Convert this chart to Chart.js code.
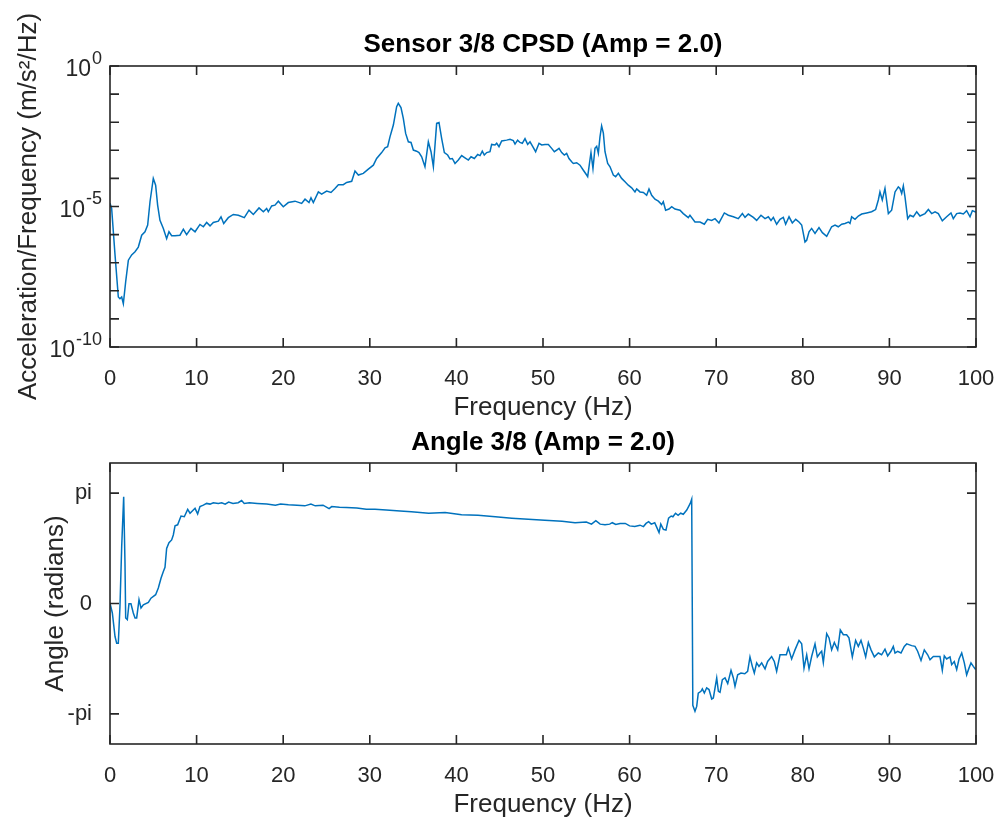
<!DOCTYPE html>
<html>
<head>
<meta charset="utf-8">
<script src="https://cdn.jsdelivr.net/npm/chart.js@4.4.1/dist/chart.umd.min.js"></script>
<style>
  html, body { margin: 0; padding: 0; background: #ffffff; }
  #wrap { position: relative; width: 1000px; height: 823px; overflow: hidden; }
  canvas { position: absolute; left: 0; }
  #psd { top: 0; }
  #angle { top: 420px; }
</style>
</head>
<body>
<div id="wrap">
  <canvas id="angle" width="1000" height="403"></canvas>
  <canvas id="psd" width="1000" height="430"></canvas>
</div>
<script>
// Cross power spectral density magnitude, [frequency Hz, m/s^2/Hz]
const psdSeries = [
  [0,1.3e-5],[0.19,8.5e-6],[0.58,1.9e-7],[0.96,6.0e-9],[1.15,5.2e-9],[1.35,6.0e-9],[1.54,3.5e-9],[1.81,2.1e-8],
  [2.12,1.23e-7],[2.50,1.9e-7],[2.89,2.45e-7],[3.27,3.6e-7],[3.66,9.5e-7],[4.04,1.26e-6],[4.35,2.2e-6],[4.62,1.48e-5],
  [5.00,1.0e-4],[5.27,5.75e-5],[5.50,1.12e-5],[5.77,3.2e-6],[6.16,1.66e-6],[6.54,7.2e-7],[6.81,1.26e-6],[7.12,9.1e-7],
  [7.51,9.1e-7],[8.08,9.5e-7],[8.47,1.55e-6],[8.85,1.0e-6],[9.35,1.66e-6],[9.82,1.26e-6],[10.39,2.3e-6],[10.78,1.9e-6],
  [11.16,2.7e-6],[11.55,2.04e-6],[11.93,2.7e-6],[12.51,3.0e-6],[12.82,4.3e-6],[13.13,2.5e-6],[13.66,4.0e-6],[14.24,5.2e-6],
  [14.82,4.9e-6],[15.51,4.0e-6],[16.05,7.4e-6],[16.55,5.2e-6],[17.21,8.9e-6],[17.71,6.5e-6],[18.09,8.5e-6],[18.28,6.5e-6],
  [18.67,1.05e-5],[19.05,1.12e-5],[19.44,1.55e-5],[20.01,9.8e-6],[20.59,1.38e-5],[21.36,1.55e-5],[22.13,1.29e-5],[22.52,1.82e-5],
  [22.98,1.38e-5],[23.21,2.04e-5],[23.48,1.38e-5],[24.06,3.3e-5],[24.44,2.75e-5],[25.02,3.55e-5],[25.52,3.16e-5],[25.98,4.4e-5],
  [26.37,6.0e-5],[26.94,6.0e-5],[27.33,7.2e-5],[27.91,7.9e-5],[28.29,1.82e-4],[28.68,1.32e-4],[29.25,1.51e-4],[29.83,2.14e-4],
  [30.41,2.95e-4],[30.79,5.1e-4],[31.37,8.3e-4],[31.76,1.23e-3],[32.06,1.35e-3],[32.33,3.0e-3],[32.72,7.9e-3],[33.10,3.55e-2],
  [33.29,4.7e-2],[33.60,3.3e-2],[33.87,1.38e-2],[34.14,4.0e-3],[34.45,2.0e-3],[34.76,1.9e-3],[35.03,1.02e-3],[35.41,9.3e-4],
  [35.68,8.3e-4],[35.99,5.9e-4],[36.37,2.6e-4],[36.76,2.0e-3],[37.07,8.9e-4],[37.34,2.6e-4],[37.72,9.1e-3],[37.99,9.8e-3],
  [38.30,2.6e-3],[38.61,8.3e-4],[38.99,6.8e-4],[39.26,4.9e-4],[39.53,5.1e-4],[39.84,3.4e-4],[40.22,4.5e-4],[40.61,6.5e-4],
  [40.99,5.4e-4],[41.38,4.5e-4],[41.69,5.9e-4],[42.07,5.1e-4],[42.46,7.1e-4],[42.73,6.5e-4],[42.99,9.3e-4],[43.22,6.8e-4],
  [43.50,8.3e-4],[43.88,8.9e-4],[44.07,1.62e-3],[44.46,1.55e-3],[44.65,1.78e-3],[44.92,1.35e-3],[45.23,2.14e-3],[45.80,2.3e-3],
  [46.19,2.45e-3],[46.57,2.2e-3],[46.77,1.66e-3],[47.07,2.3e-3],[47.34,1.9e-3],[47.61,1.78e-3],[47.92,2.6e-3],[48.23,1.62e-3],
  [48.50,2.0e-3],[48.77,1.45e-3],[49.15,8.9e-4],[49.54,1.78e-3],[49.85,1.55e-3],[50.23,1.62e-3],[50.62,1.62e-3],[51.00,1.17e-3],
  [51.31,8.9e-4],[51.58,1.02e-3],[51.85,1.17e-3],[52.16,8.3e-4],[52.46,6.8e-4],[52.73,7.8e-4],[53.00,5.1e-4],[53.31,3.9e-4],
  [53.50,3.4e-4],[53.89,3.6e-4],[54.27,2.95e-4],[54.66,1.95e-4],[55.04,1.32e-4],[55.16,1.15e-4],[55.39,3.9e-4],[55.54,8.3e-4],
  [55.77,2.24e-4],[56.00,1.17e-3],[56.20,1.38e-3],[56.39,7.8e-4],[56.58,3.0e-3],[56.77,7.4e-3],[56.97,4.1e-3],[57.16,8.9e-4],
  [57.47,3.4e-4],[57.74,2.6e-4],[58.12,1.32e-4],[58.39,1.15e-4],[58.70,1.51e-4],[59.08,1.0e-4],[59.47,7.6e-5],[59.85,5.75e-5],
  [60.24,4.6e-5],[60.62,3.3e-5],[60.82,4.2e-5],[61.20,3.3e-5],[61.59,3.16e-5],[61.97,2.5e-5],[62.24,4.2e-5],[62.55,2.5e-5],
  [62.93,1.82e-5],[63.32,1.55e-5],[63.70,1.17e-5],[63.89,1.48e-5],[64.16,7.4e-6],[64.55,8.1e-6],[64.86,9.8e-6],[65.24,8.1e-6],
  [65.82,7.4e-6],[66.20,5.6e-6],[66.78,4.0e-6],[66.97,4.9e-6],[67.55,2.8e-6],[68.13,2.8e-6],[68.63,2.34e-6],[69.01,3.5e-6],
  [69.48,3.2e-6],[69.86,3.7e-6],[70.32,2.6e-6],[70.94,5.9e-6],[71.40,4.9e-6],[71.98,4.3e-6],[72.55,3.7e-6],[73.02,5.6e-6],
  [73.33,4.1e-6],[73.71,5.4e-6],[74.29,4.1e-6],[74.67,3.2e-6],[75.17,4.9e-6],[75.64,3.7e-6],[76.02,4.3e-6],[76.33,3.2e-6],
  [76.60,4.1e-6],[76.98,2.34e-6],[77.37,3.5e-6],[77.75,4.1e-6],[78.02,2.34e-6],[78.41,4.3e-6],[78.79,2.6e-6],[79.18,3.5e-6],
  [79.56,2.8e-6],[79.87,2.2e-6],[80.06,1.1e-6],[80.25,5.5e-7],[80.45,6.3e-7],[80.72,1.26e-6],[81.02,1.66e-6],[81.41,1.1e-6],
  [81.87,1.78e-6],[82.26,1.17e-6],[82.76,8.7e-7],[83.33,1.9e-6],[83.72,2.2e-6],[84.10,1.9e-6],[84.49,2.34e-6],[84.87,2.5e-6],
  [85.26,2.8e-6],[85.45,2.5e-6],[85.64,4.3e-6],[86.03,3.5e-6],[86.41,4.6e-6],[86.80,5.4e-6],[87.37,5.9e-6],[87.95,6.5e-6],
  [88.41,7.8e-6],[88.72,1.7e-5],[88.91,3.3e-5],[89.18,1.7e-5],[89.49,4.4e-5],[89.88,5.6e-6],[90.26,7.4e-6],[90.65,3.3e-5],
  [91.03,5.0e-5],[91.22,4.4e-5],[91.42,2.9e-5],[91.61,5.4e-5],[91.80,2.2e-5],[92.11,3.7e-6],[92.38,4.9e-6],[92.76,4.3e-6],
  [93.15,6.5e-6],[93.53,4.6e-6],[94.11,5.6e-6],[94.50,7.8e-6],[94.88,5.6e-6],[95.27,6.5e-6],[95.65,5.6e-6],[96.11,3.1e-6],
  [96.61,4.3e-6],[97.11,5.9e-6],[97.38,3.7e-6],[97.77,5.6e-6],[98.15,5.9e-6],[98.54,5.4e-6],[98.92,7.1e-6],[99.31,4.3e-6],
  [99.58,7.1e-6],[99.88,6.5e-6],[100,6.3e-6]
];

// Phase of the cross spectrum, [frequency Hz, radians]
const angleSeries = [
  [0,0.01],[0.27,-0.27],[0.58,-0.94],[0.77,-1.13],[0.96,-1.13],[1.15,-0.09],[1.35,1.62],[1.58,3.04],[1.73,1.15],
  [1.81,-0.41],[2.0,-0.46],[2.19,-0.01],[2.42,-0.01],[2.69,-0.27],[2.89,-0.41],[3.08,-0.41],[3.35,0.11],[3.58,-0.13],
  [3.85,-0.04],[4.43,0.03],[4.73,0.15],[5.27,0.25],[5.58,0.44],[5.89,0.72],[6.16,0.91],[6.35,1.03],[6.54,1.57],
  [6.81,1.73],[7.12,1.81],[7.31,1.95],[7.51,2.21],[7.81,2.24],[8.2,2.49],[8.58,2.47],[8.97,2.68],[9.24,2.57],
  [9.82,2.71],[10.12,2.55],[10.39,2.76],[10.78,2.80],[11.16,2.85],[11.55,2.83],[11.93,2.87],[12.51,2.85],[12.9,2.87],
  [13.3,2.83],[13.7,2.89],[14.2,2.85],[14.8,2.87],[15.2,2.93],[15.5,2.85],[16.1,2.87],[17.0,2.85],[18.1,2.83],
  [19.1,2.80],[19.7,2.83],[20.6,2.81],[21.6,2.80],[22.5,2.78],[23.2,2.83],[23.7,2.78],[24.6,2.80],[25.3,2.70],
  [25.6,2.76],[26.5,2.74],[27.3,2.73],[28.5,2.72],[29.6,2.68],[30.6,2.68],[31.9,2.66],[33.5,2.63],[34.8,2.61],
  [36.8,2.57],[38.7,2.59],[40.6,2.53],[42.5,2.51],[44.5,2.47],[46.4,2.43],[48.3,2.40],[50.2,2.37],[52.2,2.34],
  [53.7,2.30],[55.0,2.32],[55.6,2.26],[56.1,2.36],[56.6,2.26],[57.16,2.24],[57.7,2.26],[58.0,2.30],[58.4,2.25],
  [58.9,2.28],[59.5,2.28],[60.0,2.21],[60.6,2.19],[61.2,2.23],[61.6,2.19],[61.9,2.28],[62.2,2.33],[62.5,2.26],
  [62.9,2.30],[63.1,2.19],[63.4,2.02],[63.6,2.26],[63.9,2.11],[64.2,2.09],[64.5,2.43],[64.8,2.49],[65.0,2.47],
  [65.3,2.57],[65.6,2.51],[65.9,2.57],[66.2,2.54],[66.6,2.66],[67.0,2.85],[67.17,2.97],[67.3,-2.90],[67.55,-3.07],
  [67.75,-2.93],[67.93,-2.55],[68.24,-2.50],[68.40,-2.43],[68.63,-2.55],[68.90,-2.40],[69.17,-2.45],[69.48,-2.72],
  [69.67,-2.69],[70.06,-2.12],[70.25,-2.50],[70.44,-2.53],[70.71,-2.17],[71.02,-2.12],[71.33,-2.28],[71.71,-1.90],
  [71.98,-2.12],[72.17,-2.36],[72.48,-2.03],[72.86,-1.98],[73.3,-2.0],[73.63,-1.93],[73.90,-1.52],[74.17,-1.79],
  [74.40,-1.98],[74.67,-1.69],[74.94,-1.79],[75.25,-1.69],[75.64,-1.86],[75.94,-1.65],[76.40,-1.51],[76.71,-1.65],
  [76.98,-1.93],[77.37,-1.46],[77.75,-1.46],[78.1,-1.46],[78.33,-1.27],[78.71,-1.58],[79.1,-1.32],[79.56,-1.05],
  [79.87,-1.15],[80.14,-1.84],[80.45,-1.46],[80.72,-1.86],[81.02,-1.51],[81.41,-1.15],[81.68,-1.52],[81.99,-1.41],
  [82.18,-1.36],[82.37,-1.68],[82.76,-0.86],[83.03,-0.98],[83.33,-1.32],[83.64,-1.11],[84.03,-1.32],[84.33,-0.75],
  [84.68,-0.89],[85.06,-0.89],[85.33,-0.98],[85.72,-1.52],[86.1,-1.05],[86.41,-1.22],[86.72,-1.05],[86.99,-1.27],
  [87.26,-1.52],[87.57,-1.11],[87.88,-1.32],[88.26,-1.52],[88.72,-1.41],[89.1,-1.46],[89.49,-1.30],[89.8,-1.49],
  [90.18,-1.36],[90.45,-1.22],[90.65,-1.41],[90.95,-1.36],[91.34,-1.41],[91.72,-1.22],[92.0,-1.15],[92.57,-1.20],
  [92.96,-1.22],[93.26,-1.36],[93.65,-1.62],[94.03,-1.32],[94.42,-1.46],[94.69,-1.60],[95.07,-1.51],[95.45,-1.51],
  [95.84,-1.51],[96.11,-1.90],[96.34,-1.49],[96.61,-1.58],[97.0,-1.52],[97.19,-1.74],[97.49,-1.65],[97.77,-1.88],
  [98.04,-1.58],[98.35,-1.41],[98.65,-1.69],[98.92,-2.03],[99.19,-1.84],[99.42,-1.69],[99.69,-1.79],[99.96,-1.88]
];

// Tick positions and labels
const freqTicks = [0, 10, 20, 30, 40, 50, 60, 70, 80, 90, 100];
const psdDecades = [1, 1e-1, 1e-2, 1e-3, 1e-4, 1e-5, 1e-6, 1e-7, 1e-8, 1e-9, 1e-10];
const psdLabelValues = [1, 1e-5, 1e-10];
const psdLabelExponents = ['0', '-5', '-10'];
const angleTickValues = [-Math.PI, 0, Math.PI];
const angleTickLabels = ['-pi', '0', 'pi'];

const FONT = '"Liberation Sans", Arial, Helvetica, sans-serif';
const INK = '#262626';
const LINE = '#0072BD';
Chart.defaults.font.family = FONT;
Chart.defaults.color = INK;

// Axes box with inward ticks on all four sides, title, and power-of-ten labels
const framePlugin = {
  id: 'frame',
  afterDraw(chart, args, opts) {
    const { ctx, chartArea: a, scales } = chart;
    const tl = 9;
    ctx.save();
    ctx.strokeStyle = INK;
    ctx.lineWidth = 1.6;
    ctx.beginPath();
    scales.x.ticks.forEach(t => {
      const px = scales.x.getPixelForValue(t.value);
      ctx.moveTo(px, a.bottom); ctx.lineTo(px, a.bottom - tl);
      ctx.moveTo(px, a.top); ctx.lineTo(px, a.top + tl);
    });
    scales.y.ticks.forEach(t => {
      const py = scales.y.getPixelForValue(t.value);
      ctx.moveTo(a.left, py); ctx.lineTo(a.left + tl, py);
      ctx.moveTo(a.right, py); ctx.lineTo(a.right - tl, py);
    });
    ctx.stroke();
    ctx.strokeRect(a.left, a.top, a.right - a.left, a.bottom - a.top);

    ctx.fillStyle = '#000000';
    ctx.font = 'bold 26px ' + FONT;
    ctx.textAlign = 'center';
    ctx.textBaseline = 'middle';
    ctx.fillText(opts.title, (a.left + a.right) / 2, opts.titleY);

    if (opts.powerLabels) {
      ctx.fillStyle = INK;
      ctx.textAlign = 'right';
      opts.powerLabels.values.forEach((v, i) => {
        const py = scales.y.getPixelForValue(v);
        const exp = opts.powerLabels.exponents[i];
        ctx.font = '18px ' + FONT;
        const ew = ctx.measureText(exp).width;
        ctx.fillText(exp, 102, py - 7);
        ctx.font = '23px ' + FONT;
        ctx.fillText('10', 101 - ew, py + 4);
      });
    }
    ctx.restore();
  }
};

function xScale(height, titlePad) {
  return {
    type: 'linear', min: 0, max: 100,
    afterBuildTicks: s => { s.ticks = freqTicks.map(v => ({ value: v })); },
    ticks: { color: INK, font: { size: 22 }, padding: 11, maxRotation: 0, autoSkip: false },
    grid: { display: false },
    border: { display: false },
    title: { display: true, text: 'Frequency (Hz)', color: INK, font: { size: 26 }, padding: { top: 0, bottom: titlePad } },
    afterFit: s => { s.height = height; s.paddingLeft = 0; s.paddingRight = 0; }
  };
}

function fixWidth(s) {
  s.width = 110; s.paddingTop = 0; s.paddingBottom = 0;
}

new Chart(document.getElementById('psd'), {
  type: 'line',
  data: {
    datasets: [{
      data: psdSeries.map(p => ({ x: p[0], y: p[1] })),
      borderColor: LINE, borderWidth: 1.5, pointRadius: 0, tension: 0, fill: false
    }]
  },
  options: {
    responsive: false, animation: false, events: [],
    layout: { padding: { left: 0, right: 24, top: 66, bottom: 0 } },
    plugins: {
      legend: { display: false }, tooltip: { enabled: false },
      frame: {
        title: 'Sensor 3/8 CPSD (Amp = 2.0)', titleY: 45,
        powerLabels: { values: psdLabelValues, exponents: psdLabelExponents }
      }
    },
    scales: {
      x: xScale(83, 7),
      y: {
        type: 'logarithmic', min: 1e-10, max: 1,
        afterBuildTicks: s => { s.ticks = psdDecades.map(v => ({ value: v })); },
        ticks: { callback: () => '' },
        grid: { display: false },
        border: { display: false },
        title: { display: true, text: 'Acceleration/Frequency (m/s²/Hz)', color: INK, font: { size: 26 }, padding: { top: 13, bottom: 0 } },
        afterFit: fixWidth
      }
    }
  },
  plugins: [framePlugin]
});

new Chart(document.getElementById('angle'), {
  type: 'line',
  data: {
    datasets: [{
      data: angleSeries.map(p => ({ x: p[0], y: p[1] })),
      borderColor: LINE, borderWidth: 1.5, pointRadius: 0, tension: 0, fill: false
    }]
  },
  options: {
    responsive: false, animation: false, events: [],
    layout: { padding: { left: 0, right: 24, top: 43, bottom: 0 } },
    plugins: {
      legend: { display: false }, tooltip: { enabled: false },
      frame: { title: 'Angle 3/8 (Amp = 2.0)', titleY: 23 }
    },
    scales: {
      x: xScale(79, 3),
      y: {
        type: 'linear', min: -4, max: 4,
        afterBuildTicks: s => { s.ticks = angleTickValues.map(v => ({ value: v })); },
        ticks: { color: INK, font: { size: 22 }, padding: 10, callback: (v, i) => angleTickLabels[i] },
        grid: { display: false },
        border: { display: false },
        title: { display: true, text: 'Angle (radians)', color: INK, font: { size: 26 }, padding: { top: 40, bottom: 0 } },
        afterFit: fixWidth
      }
    }
  },
  plugins: [framePlugin]
});
</script>
</body>
</html>
